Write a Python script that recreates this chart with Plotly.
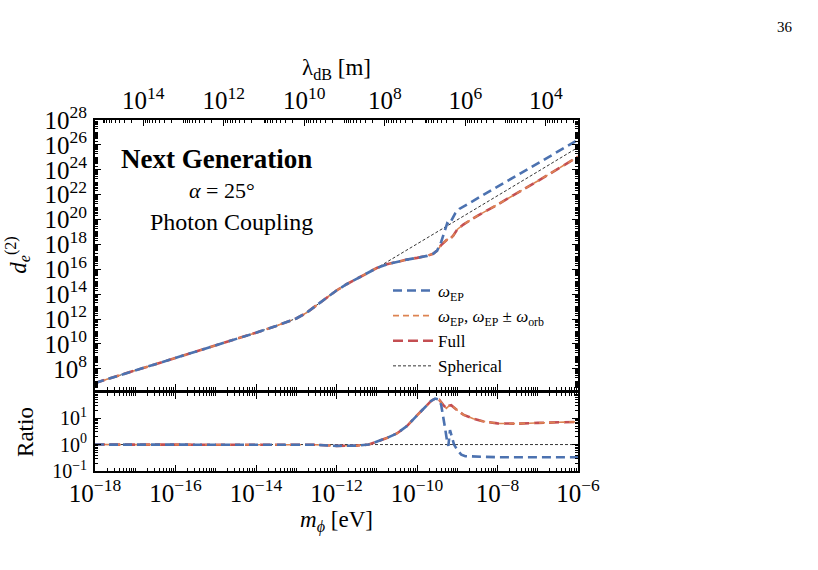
import plotly.graph_objects as go

# ---------------- data (log10 values) ----------------
# main panel: common part of all curves (m_phi <= ~3e-10 eV)
logm_base = [-18, -17, -16, -15, -14, -13.5, -13, -12.75, -12.5, -12.25, -12, -11.75,
             -11.5, -11.25, -11.0, -10.75, -10.5, -10.25, -10.0, -9.75, -9.6, -9.5]
logd_base = [6.86, 7.86, 8.87, 9.88, 10.9, 11.45, 12.05, 12.5, 13.1, 13.75, 14.3, 14.8,
             15.25, 15.7, 16.1, 16.4, 16.6, 16.78, 16.92, 17.08, 17.25, 17.5]

logm_ep_tail = [-9.4, -9.3, -9.25, -9.2, -9.15, -9.05, -8.95, -8.5, -8, -7, -6]
logd_ep_tail = [18.2, 19.2, 19.7, 19.6, 19.9, 20.5, 20.85, 21.7, 22.65, 24.55, 26.4]

logm_full_tail = [-9.4, -9.3, -9.25, -9.2, -9.1, -9.0, -8.85, -8.5, -8, -7, -6]
logd_full_tail = [17.95, 18.3, 18.4, 18.35, 18.7, 19.2, 19.6, 20.3, 21.2, 23.1, 25.05]
logd_orb_tail = [17.95, 18.3, 18.4, 18.35, 18.7, 19.2, 19.6, 20.3, 21.2, 23.1, 25.05]

# spherical: same as base up to 1e-11 eV, then its own branch
logm_sph_tail = [-10.5, -10, -9, -8, -7, -6]
logd_sph_tail = [17.07, 18.03, 19.95, 21.9, 23.85, 25.8]

# ratio panel
logm_r_base = [-18, -16, -14, -13, -12.5, -12, -11.5, -11.2, -11.0, -10.75, -10.5,
               -10.25, -10.0, -9.8, -9.65, -9.55, -9.45]
logr_base = [0, 0, 0, 0, -0.01, -0.05, -0.04, 0.0, 0.1, 0.25, 0.42,
             0.7, 1.1, 1.42, 1.65, 1.74, 1.7]

logm_r_full_tail = [-9.35, -9.27, -9.2, -9.15, -9.0, -8.84, -8.6, -8.37, -8, -7.5, -7, -6]
logr_full_tail = [1.5, 1.37, 1.47, 1.49, 1.3, 1.12, 0.98, 0.88, 0.8, 0.79, 0.82, 0.86]

logm_r_ep_tail = [-9.4, -9.35, -9.3, -9.25, -9.22, -9.18, -9.15, -9.08, -9.0, -8.9, -8.8, -8, -6]
logr_ep_tail = [1.5, 1.1, 0.6, 0.1, -0.05, 0.55, 0.4, 0.0, -0.2, -0.38, -0.44, -0.48, -0.48]

ratio_tick_exps = [-1, 0, 1]
x_top_range = [15.2, 3.2]  # lambda_dB [m] range, log10 (reversed)

# ---------------- build series ----------------
def p(v):
    return [10 ** a for a in v]

m_ep = p(logm_base + logm_ep_tail)
d_ep = p(logd_base + logd_ep_tail)
m_full = p(logm_base + logm_full_tail)
d_full = p(logd_base + logd_full_tail)
d_orb = p(logd_base + logd_orb_tail)
m_sph = p(logm_base[:15] + logm_sph_tail)
d_sph = p(logd_base[:15] + logd_sph_tail)

rm_ep = p(logm_r_base + logm_r_ep_tail)
r_ep = p(logr_base + logr_ep_tail)
rm_full = p(logm_r_base + logm_r_full_tail)
r_full = p(logr_base + logr_full_tail)

BLUE = "#4C72B0"
ORANGE = "#DD8452"
RED = "#C44E52"
FONT = "Liberation Serif"

fig = go.Figure()

# main panel
fig.add_trace(go.Scatter(x=m_sph, y=d_sph, mode="lines", name="Spherical",
                         line=dict(color="black", width=0.8, dash="3px,2px"),
                         legendrank=4))
fig.add_trace(go.Scatter(x=m_full, y=d_full, mode="lines", name="Full",
                         line=dict(color=RED, width=2.6, dash="10px,5px"),
                         legendrank=3))
fig.add_trace(go.Scatter(x=m_full, y=d_orb, mode="lines",
                         name="<i>ω</i><sub>EP</sub>, <i>ω</i><sub>EP</sub> ± <i>ω</i><sub>orb</sub>",
                         line=dict(color=ORANGE, width=1.6, dash="6px,4px"),
                         legendrank=2))
fig.add_trace(go.Scatter(x=m_ep, y=d_ep, mode="lines", name="<i>ω</i><sub>EP</sub>",
                         line=dict(color=BLUE, width=2.6, dash="9px,5px"),
                         legendrank=1))

# ratio panel
fig.add_trace(go.Scatter(x=[1e-18, 1e-6], y=[1, 1], mode="lines", showlegend=False,
                         line=dict(color="black", width=0.8, dash="3px,2px"),
                         xaxis="x2", yaxis="y2"))
fig.add_trace(go.Scatter(x=rm_full, y=r_full, mode="lines", showlegend=False,
                         line=dict(color=RED, width=2.6, dash="10px,5px"),
                         xaxis="x2", yaxis="y2"))
fig.add_trace(go.Scatter(x=rm_full, y=r_full, mode="lines", showlegend=False,
                         line=dict(color=ORANGE, width=1.6, dash="6px,4px"),
                         xaxis="x2", yaxis="y2"))
fig.add_trace(go.Scatter(x=rm_ep, y=r_ep, mode="lines", showlegend=False,
                         line=dict(color=BLUE, width=2.6, dash="9px,5px"),
                         xaxis="x2", yaxis="y2"))

# invisible trace for the top axis
fig.add_trace(go.Scatter(x=[10 ** x_top_range[0], 10 ** x_top_range[1]],
                         y=[1e10, 1e10], mode="lines", line=dict(width=0),
                         showlegend=False, hoverinfo="skip", xaxis="x3", yaxis="y"))

L, R = 95 / 818, 578 / 818
main_dom = [1 - 390 / 570, 1 - 120 / 570]
ratio_dom = [1 - 471 / 570, 1 - 393 / 570]

tickfont = dict(family=FONT, size=20, color="black")
common = dict(type="log", showline=True, linecolor="black", linewidth=1.8,
              ticks="inside", ticklen=6, tickwidth=1, tickcolor="black",
              showgrid=False, zeroline=False, exponentformat="power",
              tickfont=tickfont, automargin=False,
              minor=dict(ticks="inside", ticklen=3, tickwidth=0.8, tickcolor="black",
                         dtick="D1", showgrid=False))
title_font = dict(family=FONT, size=23, color="black")

fig.update_layout(
    width=818, height=570,
    margin=dict(l=0, r=0, t=0, b=0),
    paper_bgcolor="white", plot_bgcolor="white",
    font=dict(family=FONT, color="black"),
    showlegend=True,
    legend=dict(x=388 / 818, y=1 - 273 / 570, xanchor="left", yanchor="top",
                bgcolor="rgba(0,0,0,0)", font=dict(family=FONT, size=17, color="black"),
                traceorder="normal", itemwidth=40),
    xaxis=dict(common, domain=[L, R], anchor="y", range=[-18, -6], dtick=2, tick0=0,
               showticklabels=False, mirror=False),
    yaxis=dict(common, domain=main_dom, anchor="x", range=[6.3, 28], dtick=2, tick0=0,
               mirror="ticks", ticklabelstandoff=2,
               title=dict(text="<i>d</i><sub><i>e</i></sub><sup>(2)</sup>",
                          font=title_font, standoff=12)),
    xaxis2=dict(common, domain=[L, R], anchor="y2", range=[-18, -6], dtick=2, tick0=0,
                mirror="ticks",
                title=dict(text="<i>m</i><sub><i>ϕ</i></sub> [eV]",
                           font=title_font, standoff=4)),
    yaxis2=dict(common, domain=ratio_dom, anchor="x2", range=[-1, 1.95],
                tickmode="array", tickvals=p(ratio_tick_exps),
                ticktext=["10<sup>−1</sup>", "10<sup>0</sup>", "10<sup>1</sup>"],
                mirror="ticks", ticklabelstandoff=2,
                title=dict(text="Ratio", font=title_font, standoff=12)),
    xaxis3=dict(common, overlaying="x", side="top", anchor="y", range=x_top_range,
                dtick=2, tick0=0, mirror=False, ticklabelstandoff=0,
                title=dict(text="λ<sub>dB</sub> [m]", font=title_font, standoff=0)),
)

fig.add_annotation(x=217 / 818, y=1 - 159 / 570, xref="paper", yref="paper",
                   xanchor="center", yanchor="middle",
                   text="<b>Next Generation</b>", showarrow=False,
                   font=dict(family=FONT, size=27, color="black"))
fig.add_annotation(x=222 / 818, y=1 - 191 / 570, xref="paper", yref="paper",
                   xanchor="center", yanchor="middle",
                   text="<i>α</i> = 25°", showarrow=False,
                   font=dict(family=FONT, size=22, color="black"))
fig.add_annotation(x=231 / 818, y=1 - 222 / 570, xref="paper", yref="paper",
                   xanchor="center", yanchor="middle",
                   text="Photon Coupling", showarrow=False,
                   font=dict(family=FONT, size=24, color="black"))
fig.add_annotation(x=785 / 818, y=1 - 27 / 570, xref="paper", yref="paper",
                   xanchor="center", yanchor="middle",
                   text="36", showarrow=False,
                   font=dict(family=FONT, size=15, color="black"))

fig.write_html("out.html")
